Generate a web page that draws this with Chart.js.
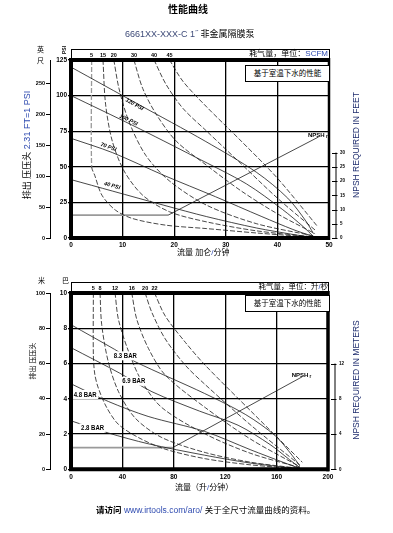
<!DOCTYPE html>
<html>
<head>
<meta charset="utf-8">
<script src="https://cdn.jsdelivr.net/npm/chart.js@4.4.1/dist/chart.umd.min.js"></script>
<style>
  body { margin: 0; background: #fff; }
  #page { position: relative; width: 393px; height: 533px; overflow: hidden;
          font-family: "Liberation Sans", "Noto Sans CJK SC", sans-serif; color: #000; }
  canvas { position: absolute; left: 0; }
  .t { position: absolute; white-space: nowrap; line-height: 1; }
  .rot { transform: translate(-50%, -50%) rotate(-90deg); }
  .blue { color: #2f4bb0; }
  .navy { color: #1f2d6e; }
  .box { position: absolute; border: 1px solid #000; background: #fff; text-align: center;
         font-size: 7.5px; line-height: 15px; white-space: nowrap; }
</style>
</head>
<body>
<div id="page">
  <canvas id="topChart" width="393" height="262" style="top:0px"></canvas>
  <canvas id="botChart" width="393" height="215" style="top:268px"></canvas>

  <div class="t" style="left:168px;top:5px;font-size:10px;font-weight:bold">性能曲线</div>
  <div class="t" style="left:125px;top:30px;font-size:9px"><span style="color:#3d4a78">6661XX-XXX-C 1˝</span> 非金属隔膜泵</div>

  <!-- 上图文字 -->
  <div class="t" style="left:37px;top:46px;font-size:7px">英</div>
  <div class="t" style="left:37px;top:57px;font-size:7px">尺</div>
  <div class="t rot" style="left:64px;top:50px;font-size:5px;font-weight:bold">PSI</div>
  <div class="t" style="right:65px;top:50px;font-size:8px">耗气量，单位：<span class="blue">SCFM</span></div>
  <div class="box" style="left:245px;top:65px;width:83px;height:15px">基于室温下水的性能</div>
  <div class="t rot" style="left:27px;top:145px;font-size:9px">排出 压压头 <span class="blue">2.31 FT=1 PSI</span></div>
  <div class="t rot navy" style="left:356px;top:145px;font-size:8.5px">NPSH REQUIRED IN FEET</div>
  <div class="t" style="left:177px;top:249px;font-size:8px">流量 加仑<span class="blue">/</span>分钟</div>

  <!-- 下图文字 -->
  <div class="t" style="left:38px;top:277px;font-size:7px">米</div>
  <div class="t" style="left:62px;top:277px;font-size:7px">巴</div>
  <div class="t" style="right:65px;top:283px;font-size:7.5px">耗气量，单位：升<span class="blue">/</span>秒</div>
  <div class="box" style="left:245px;top:295px;width:83px;height:15px">基于室温下水的性能</div>
  <div class="t rot" style="left:32px;top:361px;font-size:7px">排出 压压头</div>
  <div class="t rot navy" style="left:356px;top:380px;font-size:8.5px">NPSH REQUIRED IN METERS</div>
  <div class="t" style="left:175px;top:484px;font-size:8px">流量（升<span class="blue">/</span>分钟）</div>

  <div class="t" style="left:96px;top:506px;font-size:8.5px"><b>请访问</b> <span class="blue">www.irtools.com/aro/</span> 关于全尺寸流量曲线的资料。</div>
</div>

<script>
    // 上图 - 加仑/分钟, psi
    var topFlowTicks = [0, 10, 20, 30, 40, 50];
    var topPsiTicks = [0, 25, 50, 75, 100, 125];
    var topFeetTicks = [0, 50, 100, 150, 200, 250];
    var topNpshTicks = [0, 5, 10, 15, 20, 25, 30];

    var topPressureNames = ['120 PSI', '100 PSI', '70 PSI', '40 PSI'];
    var psi120 = [[0, 120], [13, 94], [26, 68], [36, 46], [42, 28], [45.5, 12], [47, 3]];
    var psi100 = [[0, 100], [12, 79], [24, 57], [34, 38], [41, 20], [45, 8], [47, 1]];
    var psi70 = [[0, 70], [8, 60], [18, 44], [28, 29], [37, 15], [43, 6], [47, 1]];
    var psi40 = [[0, 41], [8, 33], [18, 23], [26.3, 15], [36, 7], [43, 2.5], [47, 0.3]];

    var topAirNames = ['5', '15', '20', '30', '40', '45'];
    var scfm5 = [[4, 125], [4, 50], [4.6, 44], [6, 30], [8.6, 19.6], [11.9, 13.7], [18.4, 9], [26.3, 6.6], [36, 3.5], [47, 0.5]];
    var scfm15 = [[6.2, 125], [6.7, 94], [8, 68], [10.3, 47], [13.9, 30], [19.1, 18.4], [26.3, 11.3], [36, 5], [47, 0.8]];
    var scfm20 = [[8.3, 125], [9.3, 105], [11.2, 82], [14.5, 58], [19.1, 40], [26.3, 23], [36, 10], [47, 1.5]];
    var scfm30 = [[12.2, 125], [13.9, 105], [16.5, 87], [20.4, 68], [26.3, 51], [33, 33], [40, 17], [47.3, 3]];
    var scfm40 = [[16.1, 125], [18.4, 108], [21.7, 91], [26.3, 75], [33, 52], [40, 28], [47.5, 5]];
    var scfm45 = [[19.1, 125], [21.7, 110], [26.3, 92], [33, 68], [40, 42], [47.8, 8]];

    var topNpsh = [[0, 8], [18.8, 8], [48, 35.5]];   // 英尺

    // 下图 - 升/分钟, bar
    var botFlowTicks = [0, 40, 80, 120, 160, 200];
    var botBarTicks = [0, 2, 4, 6, 8, 10];
    var botMeterTicks = [0, 20, 40, 60, 80, 100];
    var botNpshTicks = [0, 4, 8, 12];

    var botPressureNames = ['8.3 BAR', '6.9 BAR', '4.8 BAR', '2.8 BAR'];
    var bar83 = [[0, 8.2], [34, 6.8], [50, 6.1], [104, 4.3], [136, 3.1], [159, 1.9], [172, 0.8], [178, 0.2]];
    var bar69 = [[0, 6.9], [38, 5.45], [63, 4.4], [100, 3.3], [130, 2.5], [155, 1.4], [170, 0.55], [178, 0.1]];
    var bar48 = [[0, 4.85], [29, 3.85], [60, 3.0], [104, 2.15], [140, 1.1], [165, 0.4], [178, 0.05]];
    var bar28 = [[0, 2.75], [29, 2.06], [60, 1.45], [104, 0.8], [140, 0.35], [178, 0.03]];

    var botAirNames = ['5', '8', '12', '16', '20', '22'];
    var lps5 = [[17.4, 10], [17.4, 6.5], [18.5, 5.4], [21.3, 4.6], [27.8, 3.5], [36.9, 2.55], [52.5, 1.8], [73, 1.15], [104.5, 0.6], [140, 0.25], [178, 0.03]];
    var lps8 = [[22.6, 10], [23.9, 8.2], [29, 6.1], [37, 4.4], [50, 2.9], [70.7, 1.8], [104.5, 0.95], [140, 0.4], [178, 0.05]];
    var lps12 = [[34.3, 10], [36.9, 8.5], [44.7, 6.7], [55, 5], [70.7, 3.5], [104.5, 2], [140, 0.9], [178, 0.1]];
    var lps16 = [[47.3, 10], [51.2, 8.5], [60.3, 6.85], [73.3, 5.35], [104.5, 3.5], [140, 1.7], [178, 0.15]];
    var lps20 = [[57.7, 10], [62.9, 8.9], [73.3, 7.4], [89, 5.9], [104.5, 4.8], [140, 2.5], [178, 0.25]];
    var lps22 = [[65, 10], [73.3, 8.7], [89, 7.2], [104.5, 5.9], [140, 3.3], [180, 0.4]];

    var botNpsh = [[0, 2.45], [79, 2.45], [180, 10.5]];   // 米

    var FONT = "'Liberation Sans', Arial, sans-serif";

    function lineSet(kind, label, pts, extra) {
      var ds = {
        kind: kind,
        label: label,
        data: pts.map(function(p) { return { x: p[0], y: p[1] }; }),
        borderColor: '#1a1a1a',
        borderWidth: 0.8,
        pointRadius: 0,
        tension: 0.3,
        fill: false
      };
      for (var k in extra) ds[k] = extra[k];
      return ds;
    }

    function buildSets(pressure, pNames, air, aNames, npsh, grayFirstAir) {
      var sets = [];
      pressure.forEach(function(pts, i) { sets.push(lineSet('pressure', pNames[i], pts, {})); });
      air.forEach(function(pts, i) {
        var extra = { borderDash: [5, 2] };
        if (i === 0 && grayFirstAir) {
          extra.segment = { borderColor: function(c) { return c.p0DataIndex === 0 ? '#999' : undefined; },
                            borderWidth: function(c) { return c.p0DataIndex === 0 ? 1.3 : undefined; } };
        }
        sets.push(lineSet('air', aNames[i], pts, extra));
      });
      sets.push(lineSet('npsh', 'NPSH', npsh, {
        yAxisID: 'npsh',
        tension: 0,
        segment: { borderColor: function(c) { return c.p0DataIndex === 0 ? '#9a9a9a' : undefined; },
                   borderWidth: function(c) { return c.p0DataIndex === 0 ? 1.8 : undefined; } }
      }));
      return sets;
    }

    function tickList(list) {
      return function(scale) { scale.ticks = list.map(function(v) { return { value: v }; }); };
    }
    function fixWidth(w) { return function(scale) { scale.width = w; }; }
    function fixHeight(h) { return function(scale) { scale.height = h; }; }

    // band, line labels, NPSH axis and the heavy frame
    var extrasPlugin = {
      id: 'extras',
      afterDatasetsDraw: function(chart, args, o) {
        var ctx = chart.ctx, a = chart.chartArea;
        var xs = chart.scales.x, ys = chart.scales.y, ns = chart.scales.npsh;
        var sets = chart.data.datasets;
        ctx.save();

        // labels on pressure lines
        var pIdx = 0;
        sets.forEach(function(ds) {
          if (ds.kind !== 'pressure') return;
          var l = o.lineLabels[pIdx++];
          var d = ds.data, i = 1;
          while (i < d.length - 1 && d[i].x < l.at) i++;
          var x0 = xs.getPixelForValue(d[i - 1].x), y0 = ys.getPixelForValue(d[i - 1].y);
          var x1 = xs.getPixelForValue(d[i].x), y1 = ys.getPixelForValue(d[i].y);
          var px = xs.getPixelForValue(l.at);
          var py = y0 + (y1 - y0) * (px - x0) / (x1 - x0);
          ctx.save();
          ctx.translate(px, py);
          if (o.rotate) ctx.rotate(Math.atan2(y1 - y0, x1 - x0));
          ctx.scale(o.squeeze, 1);
          ctx.font = o.lineFont;
          ctx.textAlign = 'center';
          ctx.textBaseline = 'middle';
          if (o.labelBg) {
            var w = ctx.measureText(ds.label).width;
            ctx.fillStyle = '#fff';
            ctx.fillRect(-w / 2 - 2, l.off - 4.5, w + 4, 9);
          }
          ctx.fillStyle = '#000';
          ctx.fillText(ds.label, 0, l.off);
          ctx.restore();
        });

        // NPSHr label at the end of the line
        sets.forEach(function(ds) {
          if (ds.kind !== 'npsh') return;
          var last = ds.data[ds.data.length - 1];
          var lx = xs.getPixelForValue(last.x) + 9, ly = ns.getPixelForValue(last.y);
          ctx.fillStyle = '#000';
          ctx.textAlign = 'right';
          ctx.textBaseline = 'alphabetic';
          ctx.font = 'bold 4.5px ' + FONT;
          ctx.fillText('r', lx, ly + 1.5);
          ctx.font = 'bold 6px ' + FONT;
          ctx.fillText('NPSH', lx - 3, ly);
        });

        // header band with air consumption values
        ctx.strokeStyle = '#000';
        ctx.lineWidth = 1;
        ctx.strokeRect(a.left + 0.5, a.top - 10.5, a.right - a.left, 10.5);
        ctx.fillStyle = '#000';
        ctx.font = 'bold 5.5px ' + FONT;
        ctx.textAlign = 'center';
        ctx.textBaseline = 'middle';
        sets.forEach(function(ds) {
          if (ds.kind === 'air') ctx.fillText(ds.label, xs.getPixelForValue(ds.data[0].x), a.top - 5);
        });

        // NPSH axis line with crossing ticks
        var nx = ns.left + 7;
        var top = ns.ticks[ns.ticks.length - 1].value;
        ctx.beginPath();
        ctx.moveTo(nx, ns.getPixelForValue(0));
        ctx.lineTo(nx, ns.getPixelForValue(top));
        ns.ticks.forEach(function(t) {
          var ty = Math.round(ns.getPixelForValue(t.value)) + 0.5;
          ctx.moveTo(nx - 4, ty);
          ctx.lineTo(nx + 1.5, ty);
        });
        ctx.stroke();

        // heavy frame
        ctx.lineWidth = 4;
        ctx.beginPath();
        ctx.moveTo(a.right, a.top);
        ctx.lineTo(a.left, a.top);
        ctx.lineTo(a.left, a.bottom);
        ctx.lineTo(a.right + 1, a.bottom);
        ctx.stroke();
        ctx.lineWidth = o.rightWidth;
        ctx.beginPath();
        ctx.moveTo(a.right, a.top - 2);
        ctx.lineTo(a.right, a.bottom + 2);
        ctx.stroke();
        ctx.restore();
      }
    };

    function createChart(id, c) {
      var ctx = document.getElementById(id).getContext('2d');
      return new Chart(ctx, {
        type: 'line',
        data: { datasets: c.datasets },
        options: {
          responsive: false,
          animation: false,
          events: [],
          layout: { padding: { top: c.padTop, left: 20, right: c.padRight, bottom: 0 } },
          plugins: { legend: { display: false }, tooltip: { enabled: false }, extras: c.extras },
          scales: {
            x: {
              type: 'linear', min: 0, max: c.xMax,
              afterBuildTicks: tickList(c.xTicks), afterFit: fixHeight(c.xHeight),
              grid: { color: '#000', lineWidth: 1.3, drawTicks: false },
              border: { display: false },
              ticks: { font: { family: FONT, size: 6.5, weight: 'bold' }, color: '#000', padding: c.xPad, maxRotation: 0 }
            },
            y: {
              position: 'left', weight: 0, min: 0, max: c.yMax,
              afterBuildTicks: tickList(c.yTicks), afterFit: fixWidth(21),
              grid: { color: '#000', lineWidth: 1.3, tickLength: 3 },
              border: { display: false },
              ticks: { font: { family: FONT, size: 6.5, weight: 'bold' }, color: '#000', padding: 1 }
            },
            outer: {
              position: 'left', weight: 1, min: 0, max: c.outerMax,
              afterBuildTicks: tickList(c.outerTicks), afterFit: fixWidth(30),
              grid: { drawOnChartArea: false, color: '#000', lineWidth: 1, tickLength: 4 },
              border: { display: true, color: '#000', width: 1 },
              ticks: { font: { family: FONT, size: 5.5, weight: 'bold' }, color: '#000', padding: 1 }
            },
            npsh: {
              position: 'right', min: 0, max: c.npshMax,
              afterBuildTicks: tickList(c.npshTicks), afterFit: fixWidth(20),
              grid: { display: false, drawTicks: false },
              border: { display: false },
              ticks: { font: { family: FONT, size: 4.5, weight: 'bold' }, color: '#000', padding: 11 }
            }
          }
        },
        plugins: [extrasPlugin]
      });
    }

    var topChart = null;
    var botChart = null;

    window.onload = function() {
      topChart = createChart('topChart', {
        datasets: buildSets([psi120, psi100, psi70, psi40], topPressureNames,
                            [scfm5, scfm15, scfm20, scfm30, scfm40, scfm45], topAirNames, topNpsh, true),
        padTop: 60, padRight: 44, xHeight: 24, xPad: 3,
        xMax: 50, xTicks: topFlowTicks,
        yMax: 125, yTicks: topPsiTicks,
        outerMax: 288.75, outerTicks: topFeetTicks,
        npshMax: 62.5, npshTicks: topNpshTicks,
        extras: {
          rotate: true, labelBg: false, rightWidth: 2.5, squeeze: 1,
          lineFont: 'italic bold 5.5px ' + FONT,
          lineLabels: [{ at: 12.5, off: 2 }, { at: 10.9, off: -3 }, { at: 7, off: -4 }, { at: 7.7, off: -5 }]
        }
      });
      botChart = createChart('botChart', {
        datasets: buildSets([bar83, bar69, bar48, bar28], botPressureNames,
                            [lps5, lps8, lps12, lps16, lps20, lps22], botAirNames, botNpsh, false),
        padTop: 25, padRight: 45, xHeight: 13, xPad: 4,
        xMax: 200, xTicks: botFlowTicks,
        yMax: 10, yTicks: botBarTicks,
        outerMax: 100, outerTicks: botMeterTicks,
        npshMax: 20, npshTicks: botNpshTicks,
        extras: {
          rotate: false, labelBg: true, rightWidth: 3.5, squeeze: 0.8,
          lineFont: 'bold 7.5px ' + FONT,
          lineLabels: [{ at: 42.3, off: 0 }, { at: 48.8, off: 0 }, { at: 11, off: 4 }, { at: 16.8, off: 0 }]
        }
      });
    };
</script>
</body>
</html>
